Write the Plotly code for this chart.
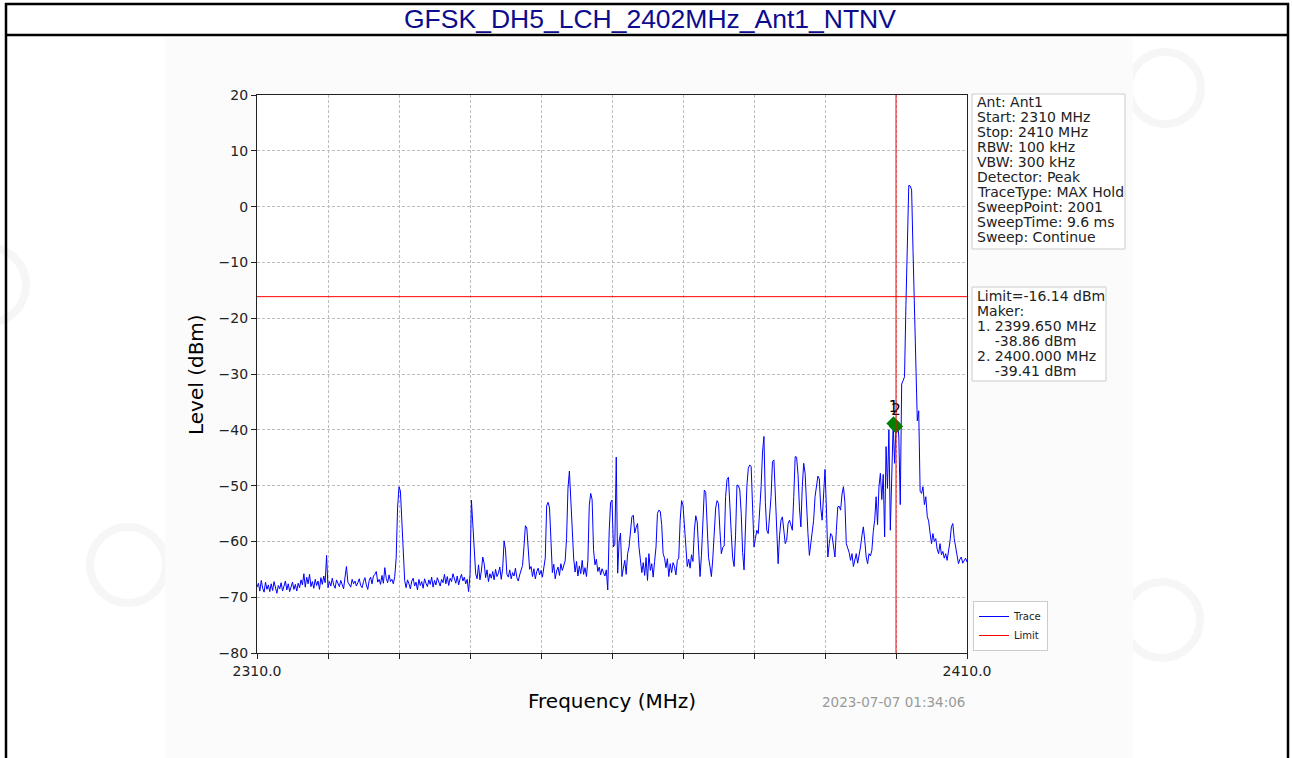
import numpy as np
import plotly.graph_objects as go

TITLE = "GFSK_DH5_LCH_2402MHz_Ant1_NTNV"
TIMESTAMP = "2023-07-07 01:34:06"

FREQ_START_MHZ = 2310.0
FREQ_STOP_MHZ = 2410.0

# max-hold trace, one value every 0.2 MHz
LEVEL_DBM = [
    # 2310 - 2319.8
    -68.2, -67.5, -68.9, -67.0, -68.4, -69.1, -67.3, -68.6, -67.8, -69.0,
    -67.6, -68.8, -67.2, -68.3, -69.3, -67.9, -68.5, -67.4, -68.9, -68.0,
    -67.1, -68.7, -67.6, -69.0, -68.1, -67.3, -68.6, -67.7, -68.9, -67.5,
    -68.3, -66.9, -67.8, -65.8, -68.2, -66.4, -67.6, -65.9, -68.1, -67.2,
    -68.4, -66.8, -67.9, -67.1, -68.6, -66.5, -67.7, -66.2, -67.4, -62.5,
    # 2320 - 2329.8
    -68.3, -67.2, -68.0, -66.6, -67.8, -68.4, -66.9, -67.5, -68.1, -67.0,
    -67.7, -68.5, -66.4, -64.5, -67.3, -67.9, -68.2, -66.8, -67.6, -67.1,
    -68.0, -67.4, -66.7, -67.9, -68.3, -67.2, -66.5, -67.8, -68.6, -67.0,
    -66.4, -67.6, -66.2, -65.9, -65.4, -67.3, -66.8, -67.7, -66.1, -67.5,
    -64.7, -66.6, -67.4, -66.0, -67.2, -66.8, -67.6, -66.3, -63.0, -54.0,
    # 2330 - 2339.8
    -50.2, -51.0, -56.0, -63.5, -67.0, -68.3, -66.9, -67.6, -68.5, -67.1,
    -66.6, -68.0, -67.3, -68.7, -66.8, -67.9, -67.2, -68.4, -66.7, -67.5,
    -68.1, -66.9, -67.7, -66.4, -68.2, -67.0, -67.8, -66.5, -67.3, -68.0,
    -66.8, -67.4, -65.9, -67.6, -66.3, -67.9, -66.6, -67.2, -65.8, -66.9,
    -67.5, -66.2, -67.8, -66.7, -65.9, -67.1, -66.4, -67.6, -66.8, -69.0,
    # 2340 - 2349.8
    -66.0, -52.6, -57.5, -60.5, -65.8, -66.7, -64.2, -66.9, -65.3, -62.8,
    -64.0, -66.5, -65.1, -67.2, -65.8, -66.6, -65.4, -66.9, -65.0, -66.3,
    -65.7, -64.6, -66.8, -64.9, -59.9, -61.5, -65.9, -66.4, -65.1, -66.7,
    -65.6, -66.2, -64.8, -66.5, -67.1, -66.0, -65.2, -64.3, -61.0, -57.2,
    -57.6, -60.8, -65.0, -64.5, -66.3, -64.9, -66.7, -65.4, -64.8, -66.0,
    # 2350 - 2359.8
    -65.2, -66.4, -64.7, -63.0, -53.6, -53.0, -54.0, -61.0, -65.6, -64.1,
    -66.7, -65.3, -64.6, -66.1, -64.0, -65.2, -64.3, -63.5, -59.5, -50.5,
    -47.4, -52.5, -58.7, -63.0, -65.5, -63.6, -66.2, -64.4, -65.8, -63.4,
    -65.9, -64.7, -66.3, -63.5, -53.6, -51.4, -52.5, -61.5, -64.2, -63.2,
    -65.4, -64.6, -66.0, -64.9, -65.6, -66.2, -65.1, -68.7, -58.3, -53.0,
    # 2360 - 2369.8
    -52.6, -61.0, -60.5, -44.9, -65.7, -60.0, -58.5, -66.3, -64.8, -63.4,
    -65.9, -62.2, -61.0, -58.0, -55.6, -55.3, -58.5, -57.5, -56.8, -61.0,
    -63.4, -65.6, -63.8, -66.1, -62.9, -67.0, -62.2, -65.2, -64.0, -66.4,
    -63.6, -61.0, -55.0, -54.4, -54.6, -57.0, -62.2, -63.0, -64.7, -63.1,
    -66.3, -64.0, -65.6, -63.8, -64.5, -66.0, -63.4, -63.0, -56.2, -52.7,
    # 2370 - 2379.8
    -53.5, -57.0, -61.8, -64.5, -63.2, -64.8, -62.4, -63.6, -58.0, -55.4,
    -56.5, -62.0, -66.3, -62.5, -55.0, -50.8, -51.2, -58.5, -62.9, -64.5,
    -66.3, -63.0, -58.6, -54.0, -52.7, -53.2, -58.0, -62.2, -61.1, -60.8,
    -52.0, -48.9, -48.5, -52.5, -58.6, -63.0, -64.5, -59.0, -49.9, -50.0,
    -50.8, -55.0, -62.0, -65.1, -58.0, -50.0, -46.9, -46.3, -46.6, -54.0,
    # 2380 - 2389.8
    -61.0, -59.5, -58.0, -58.6, -55.0, -50.2, -44.0, -41.2, -53.0, -58.0,
    -58.6, -55.0, -52.0, -45.7, -45.4, -51.5, -58.0, -64.0, -59.0, -56.2,
    -55.6, -58.5, -60.4, -59.8, -56.8, -56.2, -57.0, -58.0, -52.0, -44.8,
    -44.9, -48.0, -54.0, -57.4, -50.2, -46.0, -47.8, -54.5, -58.6, -62.5,
    -60.0, -58.0, -56.2, -52.0, -49.5, -48.3, -48.8, -54.0, -56.2, -51.4,
    # 2390 - 2399.8
    -47.1, -54.0, -62.8, -60.4, -58.6, -59.0, -61.5, -62.8, -58.0, -53.8,
    -53.7, -54.4, -51.5, -50.2, -53.0, -60.4, -61.2, -62.0, -63.4, -62.2,
    -64.5, -63.4, -62.2, -63.9, -62.6, -61.0, -59.0, -57.4, -59.8, -62.8,
    -64.0, -62.2, -62.6, -61.6, -58.2, -56.2, -52.0, -57.0, -50.2, -47.8,
    -52.5, -48.0, -59.2, -43.0, -50.5, -40.0, -58.0, -50.4, -38.86, -46.0,
    # 2400 - 2410
    -39.41, -38.5, -41.3, -53.4, -31.8, -31.2, -30.5, -17.5, -4.0, 3.8,
    3.7, 3.0, -8.0, -20.0, -30.7, -38.4, -36.6, -51.0, -51.4, -50.2,
    -53.4, -52.0, -55.5, -56.4, -58.5, -60.4, -58.6, -60.0, -59.5, -61.4,
    -62.2, -60.4, -62.4, -61.8, -63.0, -62.2, -63.4, -62.0, -60.0, -57.4,
    -56.8, -59.5, -61.0, -62.4, -64.0, -63.2, -62.8, -63.9, -63.4, -63.0,
    -63.7,
]

LIMIT_DBM = -16.14
LIMIT_FREQ_MHZ = 2400.0

MARKER_FREQ_MHZ = [2399.65, 2400.0]
MARKER_LEVEL_DBM = [-38.86, -39.41]
MARKER_LABELS = ["1", "2"]

X_TICKS = [2310, 2320, 2330, 2340, 2350, 2360, 2370, 2380, 2390, 2400, 2410]
X_TICK_TEXT = ["2310.0", "", "", "", "", "", "", "", "", "", "2410.0"]
Y_TICKS = [-80, -70, -60, -50, -40, -30, -20, -10, 0, 10, 20]

INFO_LINES = [
    "Ant: Ant1",
    "Start: 2310 MHz",
    "Stop: 2410 MHz",
    "RBW: 100 kHz",
    "VBW: 300 kHz",
    "Detector: Peak",
    "TraceType: MAX Hold",
    "SweepPoint: 2001",
    "SweepTime: 9.6 ms",
    "Sweep: Continue",
]
MARKER_LINES = [
    "Limit=-16.14 dBm",
    "Maker:",
    "1. 2399.650 MHz",
    "\u00a0\u00a0\u00a0\u00a0-38.86 dBm",
    "2. 2400.000 MHz",
    "\u00a0\u00a0\u00a0\u00a0-39.41 dBm",
]

W, H = 1292, 758
PLOT_L, PLOT_R, PLOT_T, PLOT_B = 257, 967, 95, 653
MPL_FONT = "DejaVu Sans, Liberation Sans, sans-serif"


def px(x):
    return (x - PLOT_L) / (PLOT_R - PLOT_L)


def py(y):
    return (PLOT_B - y) / (PLOT_B - PLOT_T)


freqs = np.linspace(FREQ_START_MHZ, FREQ_STOP_MHZ, len(LEVEL_DBM))

fig = go.Figure()
fig.add_trace(
    go.Scatter(
        x=freqs,
        y=LEVEL_DBM,
        mode="lines",
        line={"color": "#0000ff", "width": 1},
        name="Trace",
        hoverinfo="skip",
    )
)
fig.add_trace(
    go.Scatter(
        x=[FREQ_START_MHZ, FREQ_STOP_MHZ],
        y=[LIMIT_DBM, LIMIT_DBM],
        mode="lines",
        line={"color": "#ff0000", "width": 1},
        name="Limit",
    )
)
fig.add_trace(
    go.Scatter(
        x=MARKER_FREQ_MHZ,
        y=MARKER_LEVEL_DBM,
        mode="markers+text",
        text=MARKER_LABELS,
        textposition="top center",
        textfont={"family": MPL_FONT, "size": 15, "color": "#000000"},
        marker={"symbol": "diamond", "size": 11, "color": "#008000"},
        showlegend=False,
    )
)


def circle(cx, cy, r):
    return {"type": "circle", "xref": "paper", "yref": "paper", "layer": "below",
            "x0": px(cx - r), "x1": px(cx + r), "y0": py(cy + r), "y1": py(cy - r),
            "line": {"color": "#f6f6f6", "width": 8}}


shapes = [
    {"type": "rect", "xref": "paper", "yref": "paper", "layer": "below",
     "x0": px(0), "x1": px(W), "y0": py(H), "y1": py(0),
     "fillcolor": "#ffffff", "line": {"width": 0}},
    # faint watermark logos around the exported image
    circle(-12, 285, 38),
    circle(128, 565, 38),
    circle(1165, 88, 36),
    circle(1162, 620, 38),
    # light background of the exported chart image
    {"type": "rect", "xref": "paper", "yref": "paper", "layer": "below",
     "x0": px(165), "x1": px(1133), "y0": py(38), "y1": py(758),
     "fillcolor": "#fbfbfb", "line": {"width": 0}},
    {"type": "rect", "xref": "paper", "yref": "paper", "layer": "below",
     "x0": 0, "x1": 1, "y0": 0, "y1": 1,
     "fillcolor": "#ffffff", "line": {"width": 0}},
    # report table borders
    {"type": "line", "xref": "paper", "yref": "paper",
     "x0": px(5), "x1": px(1289), "y0": py(4), "y1": py(4),
     "line": {"color": "#000000", "width": 2.5}},
    {"type": "line", "xref": "paper", "yref": "paper",
     "x0": px(5), "x1": px(1289), "y0": py(35), "y1": py(35),
     "line": {"color": "#000000", "width": 2.5}},
    {"type": "line", "xref": "paper", "yref": "paper",
     "x0": px(6), "x1": px(6), "y0": py(3), "y1": py(760),
     "line": {"color": "#000000", "width": 2.5}},
    {"type": "line", "xref": "paper", "yref": "paper",
     "x0": px(1288), "x1": px(1288), "y0": py(3), "y1": py(760),
     "line": {"color": "#000000", "width": 2.5}},
    # limit frequency
    {"type": "line", "xref": "x", "yref": "paper",
     "x0": LIMIT_FREQ_MHZ, "x1": LIMIT_FREQ_MHZ, "y0": 0, "y1": 1,
     "line": {"color": "#ff0000", "width": 1}},
    # info boxes
    {"type": "rect", "xref": "paper", "yref": "paper",
     "x0": px(972), "x1": px(1125), "y0": py(94), "y1": py(249),
     "fillcolor": "#ffffff", "line": {"color": "#cccccc", "width": 1}},
    {"type": "rect", "xref": "paper", "yref": "paper",
     "x0": px(972), "x1": px(1106), "y0": py(287), "y1": py(381),
     "fillcolor": "#ffffff", "line": {"color": "#cccccc", "width": 1}},
]

annotations = [
    {"text": TITLE, "xref": "paper", "yref": "paper", "x": px(650), "y": py(19),
     "xanchor": "center", "yanchor": "middle", "showarrow": False,
     "font": {"family": "Liberation Sans, Arial, sans-serif", "size": 26.5, "color": "#0c0c8c"}},
    {"text": "Frequency (MHz)", "xref": "paper", "yref": "paper", "x": px(612), "y": py(701),
     "xanchor": "center", "yanchor": "middle", "showarrow": False,
     "font": {"family": MPL_FONT, "size": 20, "color": "#000000"}},
    {"text": "Level (dBm)", "xref": "paper", "yref": "paper", "x": px(196), "y": py(375),
     "xanchor": "center", "yanchor": "middle", "showarrow": False, "textangle": -90,
     "font": {"family": MPL_FONT, "size": 20, "color": "#000000"}},
    {"text": TIMESTAMP, "xref": "paper", "yref": "paper", "x": px(967), "y": py(702),
     "xanchor": "right", "yanchor": "middle", "showarrow": False,
     "font": {"family": MPL_FONT, "size": 13.5, "color": "#999999"}},
]
for i, line in enumerate(INFO_LINES):
    annotations.append(
        {"text": line, "xref": "paper", "yref": "paper", "x": px(975), "y": py(102 + 15 * i),
         "xanchor": "left", "yanchor": "middle", "showarrow": False,
         "font": {"family": MPL_FONT, "size": 14, "color": "#222222"}}
    )
for i, line in enumerate(MARKER_LINES):
    annotations.append(
        {"text": line, "xref": "paper", "yref": "paper", "x": px(975), "y": py(296 + 15 * i),
         "xanchor": "left", "yanchor": "middle", "showarrow": False,
         "font": {"family": MPL_FONT, "size": 14, "color": "#222222"}}
    )

axis_common = {
    "showline": True,
    "mirror": True,
    "linecolor": "#222222",
    "linewidth": 1.2,
    "ticks": "outside",
    "ticklen": 5,
    "tickwidth": 1.2,
    "tickcolor": "#222222",
    "showgrid": True,
    "gridcolor": "#bdbdbd",
    "griddash": "3px,2px",
    "gridwidth": 0.8,
    "zeroline": False,
    "tickfont": {"family": MPL_FONT, "size": 14, "color": "#222222"},
}

fig.update_layout(
    width=W,
    height=H,
    autosize=False,
    margin={"l": PLOT_L, "r": W - PLOT_R, "t": PLOT_T, "b": H - PLOT_B, "pad": 0},
    paper_bgcolor="#ffffff",
    plot_bgcolor="#ffffff",
    xaxis={**axis_common, "range": [FREQ_START_MHZ, FREQ_STOP_MHZ],
           "tickmode": "array", "tickvals": X_TICKS, "ticktext": X_TICK_TEXT},
    yaxis={**axis_common, "range": [Y_TICKS[0], Y_TICKS[-1]],
           "tickmode": "array", "tickvals": Y_TICKS},
    shapes=shapes,
    annotations=annotations,
    showlegend=True,
    legend={
        "x": px(973), "y": py(651), "xanchor": "left", "yanchor": "bottom",
        "bgcolor": "#ffffff", "bordercolor": "#cccccc", "borderwidth": 1,
        "font": {"family": MPL_FONT, "size": 10, "color": "#222222"},
        "itemwidth": 30, "tracegroupgap": 0,
    },
)

# the page is photographed edge to edge, so drop the default body margin
fig.write_html(
    "out.html",
    config={"displayModeBar": False},
    post_script="document.body.style.margin='0';",
)
